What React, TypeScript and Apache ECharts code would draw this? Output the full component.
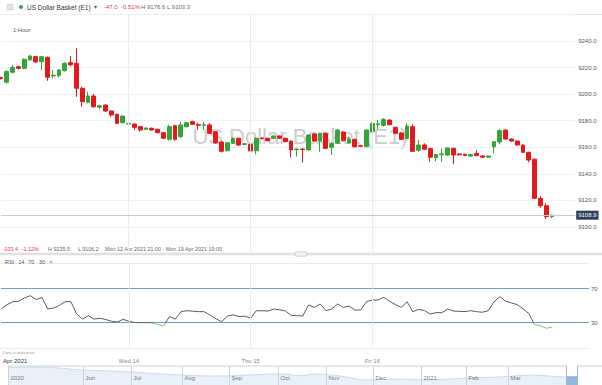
import React, { useEffect, useRef } from 'react';
import * as echarts from 'echarts';

const FONT = '"Liberation Sans", Arial, sans-serif';
const GREEN = '#35a53a';
const RED = '#e2191e';

// Hourly candles (O, C, L, H)
const open = [9212.5, 9209, 9216.5, 9220.6, 9219.4, 9225.8, 9228.2, 9224.4, 9227.7, 9213.6,
  9213.9, 9217.6, 9223.7, 9223.2, 9204.4, 9193.9, 9198.6, 9190.1, 9191.8, 9187.3,
  9184.8, 9178.5, 9177.5, 9177.5, 9175.5, 9173.5, 9174.3, 9173.5, 9171, 9166,
  9176.3, 9168, 9175.5, 9179.3, 9177, 9176.6, 9176.8, 9171.7, 9164, 9157.4,
  9163, 9166.8, 9162.2, 9162.2, 9157.4, 9167, 9166.8, 9166.8, 9168.5, 9166.8,
  9164.7, 9158.2, 9158.7, 9158, 9170, 9164.7, 9170.5, 9160, 9163, 9171.5,
  9163.2, 9166, 9161.2, 9160.5, 9171.7, 9177, 9176.5, 9180.5, 9175, 9170.8,
  9166.5, 9175.5, 9157.8, 9161.7, 9159, 9152.2, 9154.5, 9154.2, 9159.2, 9155,
  9154.7, 9153.4, 9155.4, 9153.5, 9152.5, 9160.4, 9164, 9173, 9166.2, 9164.7,
  9161.7, 9156.2, 9151, 9121.6, 9116, 9107.8];
const close = [9211.8, 9217, 9220.2, 9219.4, 9226.2, 9228.7, 9224.2, 9228.2, 9212.7, 9214.2,
  9218.2, 9223.2, 9222, 9204.4, 9194.3, 9198.6, 9190.5, 9191.3, 9187.3, 9184.3,
  9178.1, 9183.5, 9178, 9175, 9173, 9174.5, 9173, 9171, 9166.8, 9175.5,
  9166, 9176.8, 9178.5, 9177.3, 9176.6, 9177, 9170.5, 9163.4, 9157, 9163.4,
  9166.8, 9161.7, 9162.7, 9157.2, 9166.8, 9166.6, 9165, 9168.5, 9166.8, 9164.2,
  9158, 9158.7, 9158.3, 9169.2, 9164.7, 9170.5, 9159.2, 9163, 9173, 9165,
  9166.2, 9160.4, 9160.8, 9173, 9178, 9177.6, 9181, 9177, 9170.5, 9166,
  9176, 9157, 9161.7, 9158.5, 9152.5, 9154.5, 9155, 9159.5, 9154.2, 9154.3,
  9153.9, 9154.6, 9153.7, 9152.5, 9153.4, 9164.2, 9172.5, 9166.2, 9164.7, 9161.7,
  9156.2, 9150.4, 9121.6, 9116, 9107.8, 9108.9];
const low = [9211, 9208, 9215.5, 9218.5, 9218.8, 9225, 9223.5, 9218, 9210, 9212,
  9212.5, 9217, 9221, 9198, 9190.5, 9193, 9189.8, 9188.5, 9186.5, 9183,
  9177.5, 9178, 9174.3, 9173, 9171.7, 9173, 9172.5, 9170.5, 9166.3, 9165,
  9165, 9166.8, 9175, 9176.8, 9173, 9173, 9170, 9162.5, 9156, 9157,
  9162.5, 9161, 9161.8, 9155.5, 9154.7, 9166, 9164.5, 9166.2, 9166.3, 9163.8,
  9152.5, 9153, 9148.4, 9157.5, 9164.2, 9156.7, 9158.7, 9154.2, 9162.5, 9164.5,
  9162.8, 9159.8, 9160, 9160, 9171, 9173.5, 9175.5, 9176.5, 9170, 9165.5,
  9165.8, 9156.5, 9156.5, 9158, 9149, 9149.5, 9149, 9153.5, 9147.3, 9153.8,
  9153.4, 9153, 9153.2, 9152, 9152, 9155.5, 9162.2, 9165.8, 9164.2, 9161.2,
  9155.7, 9148.7, 9121, 9114.5, 9106.2, 9106.8];
const high = [9213, 9218, 9222, 9221.5, 9227, 9229.5, 9229, 9228.8, 9228.3, 9218,
  9219, 9224, 9228.7, 9234.5, 9205.5, 9201.8, 9200, 9192, 9192.3, 9187.8,
  9185.3, 9184, 9179.3, 9178, 9176, 9175, 9174.8, 9174, 9171.5, 9177,
  9176.8, 9179.3, 9179, 9180, 9178.5, 9179.3, 9178, 9172.2, 9164.5, 9164,
  9167.3, 9167.2, 9163.2, 9162.7, 9167.5, 9167.5, 9167.3, 9169, 9169, 9167.2,
  9165, 9159.2, 9159.2, 9169.8, 9170.5, 9171, 9171, 9163.5, 9173.8, 9172,
  9168, 9166.5, 9162, 9173.5, 9178.5, 9180.5, 9182, 9181, 9175.5, 9171.5,
  9178, 9177.5, 9165.5, 9163, 9159.5, 9155, 9159, 9160, 9159.7, 9155.5,
  9155.2, 9155, 9158, 9154, 9153.8, 9164.7, 9173.8, 9173.5, 9166.7, 9165.2,
  9162.2, 9156.7, 9151.5, 9123.3, 9117.8, 9109.5];

// RSI(14)
const rsi = [46, 51, 54.5, 55, 59, 61.5, 57, 59.5, 46, 47,
  50, 54.5, 54.5, 40, 34, 38, 34, 35, 33.5, 31.5,
  30.5, 33.7, 31.5, 30, 29.8, 29.8, 29.6, 27.6, 26, 37,
  34, 42.7, 43.9, 43.3, 42.8, 42.7, 38.8, 34.5, 31, 37.5,
  39, 37, 37.5, 35, 43.9, 43.8, 43.5, 45.9, 45, 43.5,
  38.5, 38, 37.6, 50.6, 47.8, 51.8, 43.9, 45.9, 51.8, 47.8,
  49.4, 44.7, 44.7, 54.5, 56.5, 56.5, 59.6, 54.8, 51, 47.8,
  54.5, 42.7, 45.5, 44, 40, 41.6, 41.6, 45.9, 43.5, 43.2,
  42.8, 43.9, 42.7, 42.1, 43.9, 54.5, 60.4, 55, 53, 51,
  46, 40.5, 27.5, 26.2, 23.2, 24.4];
const rsiOversold = 30;

const lastPrice = 9108.9;
const dayLabels = ['Apr 2021', 'Wed 14', 'Thu 15', 'Fri 16'];
const dayStarts = [0, 22, 43, 64];
const emptySlotsRight = 4;

// Navigator (days since start, index level)
const navDays = [0, 20.5, 48, 65, 80, 97, 112, 129, 144, 161.5, 176, 187, 198, 213, 230, 251, 272, 294, 315, 336.5, 358, 365];
const navValues = [9943, 9979, 9766, 9695, 9624, 9482, 9411, 9340, 9361, 9446, 9482, 9361, 9482, 9340, 9055, 9126, 9055, 9197, 9268, 9411, 9268, 9268];
const navTickDays = [0, 48, 79, 111.5, 141.7, 173, 204, 234, 265, 293.6, 321];
const navTickLabels = ['2020', 'Jun', 'Jul', 'Aug', 'Sep', 'Oct', 'Nov', 'Dec', '2021', 'Feb', 'Mar'];
const navWindow = [358, 365];

const slots = Array.from({ length: open.length + emptySlotsRight }, (_, i) => String(i));
const candles = open.map((o, i) => [o, close[i], low[i], high[i]]);
const navData = navDays.map((d, i) => [d, navValues[i]]);
const navSel = navData.filter((p) => p[0] >= navWindow[0] && p[0] <= navWindow[1]);

const TR = 'rgba(0,0,0,0)';
const rsiLineColors = ['#e9e9e9', TR, TR, '#6f9cc8', TR, TR, TR, '#6f9cc8', TR, TR, '#e9e9e9'];

const dayLines = dayStarts.filter((d) => d > 0).map((d) => ({
  xAxis: slots[d],
  lineStyle: { color: '#ebebeb', type: 'solid', width: 1 },
  label: { show: false },
}));

const txt = (text: string, x: number, y: number, fill: string, fontSize: number) => ({
  type: 'text', x, y, z: 1,
  style: { text, fill, fontSize, fontFamily: FONT, verticalAlign: 'middle', align: 'left' },
});

export default function App() {
  const ref = useRef<HTMLDivElement>(null);
  useEffect(() => {
    const chart = echarts.init(ref.current!, undefined, { renderer: 'svg' });
    const dayIdx = (i: number) => dayStarts.indexOf(i);
    const rMax = Math.max(...rsi);
    const rMin = Math.min(...rsi);
    const t = (rMax - rsiOversold) / (rMax - rMin);
    const rsiColor = new echarts.graphic.LinearGradient(0, 0, 0, 1, [
      { offset: 0, color: '#5a5a5a' },
      { offset: t, color: '#5a5a5a' },
      { offset: t, color: '#79c779' },
      { offset: 1, color: '#79c779' },
    ]);
    const option: any = {
      animation: false,
      backgroundColor: '#fff',
      textStyle: { fontFamily: FONT },
      grid: [
        { left: 1, width: 574.2, top: 14.4, height: 239.2 },
        { left: 1, width: 574.2, top: 263, height: 85 },
        { left: 1, width: 588, top: 263, height: 85 },
        { left: 8, width: 594, top: 366, height: 19 },
      ],
      xAxis: [
        { gridIndex: 0, type: 'category', data: slots, boundaryGap: false, axisLine: { show: false }, axisTick: { show: false }, axisLabel: { show: false }, splitLine: { show: false } },
        {
          gridIndex: 1, type: 'category', data: slots, boundaryGap: false,
          axisLine: { show: false }, axisTick: { show: false }, splitLine: { show: false },
          axisLabel: {
            show: true, interval: (i: number) => dayIdx(i) >= 0, margin: 9.5, fontSize: 6, color: '#8a8a8a',
            formatter: (_v: string, i: number) => (i === 0 ? '{d|' + dayLabels[0] + '}' : dayLabels[dayIdx(i)] || ''),
            rich: { d: { color: '#333', fontSize: 6, fontFamily: FONT, padding: [0, 0, 0, 27.7] } },
          },
        },
        { gridIndex: 2, type: 'value', min: 0, max: 1, show: false },
        { gridIndex: 3, type: 'value', min: 0, max: 381, show: false },
      ],
      yAxis: [
        {
          gridIndex: 0, type: 'value', position: 'right', min: 9080, max: 9260, interval: 20,
          axisLine: { show: false }, axisTick: { show: false },
          axisLabel: { margin: 3, fontSize: 6, color: '#555', showMinLabel: false, showMaxLabel: false, formatter: (v: number) => v.toFixed(1) },
          splitLine: { lineStyle: { color: '#efefef' } },
        },
        { gridIndex: 1, type: 'value', min: 0, max: 100, show: false },
        {
          gridIndex: 2, type: 'value', position: 'right', min: 0, max: 100, interval: 10,
          axisLine: { show: false }, axisTick: { show: false },
          axisLabel: { margin: 2, fontSize: 6, color: '#555', formatter: (v: number) => (v === 30 || v === 70 ? String(v) : '') },
          splitLine: { lineStyle: { color: rsiLineColors, width: 1 } },
        },
        { gridIndex: 3, type: 'value', min: 8700, max: 10050, show: false },
      ],
      series: [
        {
          type: 'candlestick', xAxisIndex: 0, yAxisIndex: 0, data: candles, barWidth: 4.2,
          itemStyle: { color: GREEN, color0: RED, borderColor: GREEN, borderColor0: RED, borderWidth: 1 },
          markLine: {
            silent: true, symbol: ['none', 'none'],
            data: [
              ...dayLines,
              {
                yAxis: lastPrice,
                lineStyle: { color: '#c3ccd8', type: 'solid', width: 1 },
                label: { show: true, position: 'end', formatter: lastPrice.toFixed(1), color: '#fff', backgroundColor: '#2e3f5e', padding: [2, 2, 1, 2], fontSize: 6, distance: 1, fontFamily: FONT },
              },
            ],
          },
        },
        {
          type: 'line', xAxisIndex: 1, yAxisIndex: 1, data: rsi, symbol: 'none', lineStyle: { width: 1, color: rsiColor },
          markLine: { silent: true, symbol: ['none', 'none'], data: dayLines },
        },
        { type: 'line', xAxisIndex: 3, yAxisIndex: 3, data: navData, symbol: 'none', smooth: 0.3, z: 2, lineStyle: { color: '#bcd3ec', width: 0.8 }, areaStyle: { color: '#e8f0f9', opacity: 1 } },
        { type: 'line', xAxisIndex: 3, yAxisIndex: 3, data: navSel, symbol: 'none', z: 2, lineStyle: { color: '#6f9fd6', width: 1 }, areaStyle: { color: '#92b7e1', opacity: 1 } },
        {
          type: 'custom', xAxisIndex: 3, yAxisIndex: 3, z: 5, data: navTickDays.map((d) => [d, 9000]),
          renderItem: (params: any, api: any) => {
            const i = params.dataIndex;
            const pt = api.coord([api.value(0), api.value(1)]);
            const x = Math.round(pt[0]) + 0.5;
            const cs = params.coordSys;
            return {
              type: 'group',
              children: [
                { type: 'line', shape: { x1: x, y1: cs.y, x2: x, y2: cs.y + cs.height }, style: { stroke: '#d2d2d2', lineWidth: 1 } },
                { type: 'text', style: { text: navTickLabels[i], x: x + 2, y: cs.y + 12, fill: '#7a7a7a', fontSize: 6, fontFamily: FONT, verticalAlign: 'middle', align: 'left' } },
              ],
            };
          },
        },
        {
          type: 'custom', xAxisIndex: 3, yAxisIndex: 3, z: 5, data: [[navWindow[0], 9000, navWindow[1]]],
          renderItem: (params: any, api: any) => {
            const x1 = Math.round(api.coord([api.value(0), api.value(1)])[0]) + 0.5;
            const x2 = Math.round(api.coord([api.value(2), api.value(1)])[0]) + 0.5;
            const cs = params.coordSys;
            return {
              type: 'group',
              children: [
                { type: 'rect', shape: { x: x1, y: cs.y - 1.5, width: x2 - x1, height: 2.5 }, style: { fill: '#fff' } },
                { type: 'line', shape: { x1, y1: cs.y, x2: x1, y2: cs.y + cs.height }, style: { stroke: '#b5b5b5', lineWidth: 1 } },
                { type: 'line', shape: { x1: x2, y1: cs.y, x2, y2: cs.y + cs.height }, style: { stroke: '#b5b5b5', lineWidth: 1 } },
              ],
            };
          },
        },
      ],
      graphic: [
        { type: 'text', x: 300, y: 136, z: 0, style: { text: 'US Dollar Basket (E1)', fill: '#cdcdcd', fontSize: 22, fontFamily: FONT, align: 'center', verticalAlign: 'middle' } },
        { type: 'line', z: 0, shape: { x1: 0, y1: 14.5, x2: 602, y2: 14.5 }, style: { stroke: '#e4e4e4', lineWidth: 1 } },
        { type: 'rect', z: 1, shape: { x: 7, y: 4, width: 6, height: 6 }, style: { fill: '#e2e2e2', stroke: '#c9c9c9', lineWidth: 0.5 } },
        { type: 'circle', z: 1, shape: { cx: 21, cy: 7, r: 2 }, style: { fill: '#2fa84f' } },
        txt('US Dollar Basket (E1)', 27, 7, '#333', 6.5),
        txt('▾', 93.5, 7, '#555', 6),
        txt('-47.0', 104, 7, '#e0393e', 6),
        txt('-0.51%', 121, 7, '#e0393e', 6),
        txt('H 9176.6 L 9103.3', 141, 7, '#666', 6),
        txt('1 Hour', 13, 29.5, '#555', 5.8),
        txt('-103.4', 2.7, 249, '#e0393e', 5.4),
        txt('-1.12%', 21.7, 249, '#e0393e', 5.4),
        txt('H 9235.5', 48, 249, '#666', 5.4),
        txt('L 9106.2', 78, 249, '#666', 5.4),
        txt('Mon 12 Apr 2021 21:00 - Mon 19 Apr 2021 19:00', 105, 249, '#666', 5.4),
        { type: 'rect', z: 1, shape: { x: 0, y: 252.8, width: 602, height: 2.4 }, style: { fill: '#e0e0e0' } },
        { type: 'rect', z: 1, shape: { x: 295, y: 251.8, width: 12, height: 4.4, r: 1.5 }, style: { fill: '#f2f2f2', stroke: '#b9b9b9', lineWidth: 0.6 } },
        txt('RSI', 5, 261.7, '#555', 5.5),
        txt('14', 18.3, 261.7, '#555', 5.5),
        txt('70', 28.3, 261.7, '#555', 5.5),
        txt('30', 39, 261.7, '#555', 5.5),
        txt('×', 49.3, 261.7, '#777', 5.5),
        txt('Data is indicative', 2.7, 352.7, '#9a9a9a', 4.2),
        { type: 'line', z: 0, shape: { x1: 8, y1: 366, x2: 602, y2: 366 }, style: { stroke: '#d2d2d2', lineWidth: 1 } },
      ],
    };
    chart.setOption(option);
    return () => chart.dispose();
  }, []);
  return <div ref={ref} style={{ position: 'fixed', left: 0, top: 0, width: 602, height: 385, background: '#fff' }} />;
}
